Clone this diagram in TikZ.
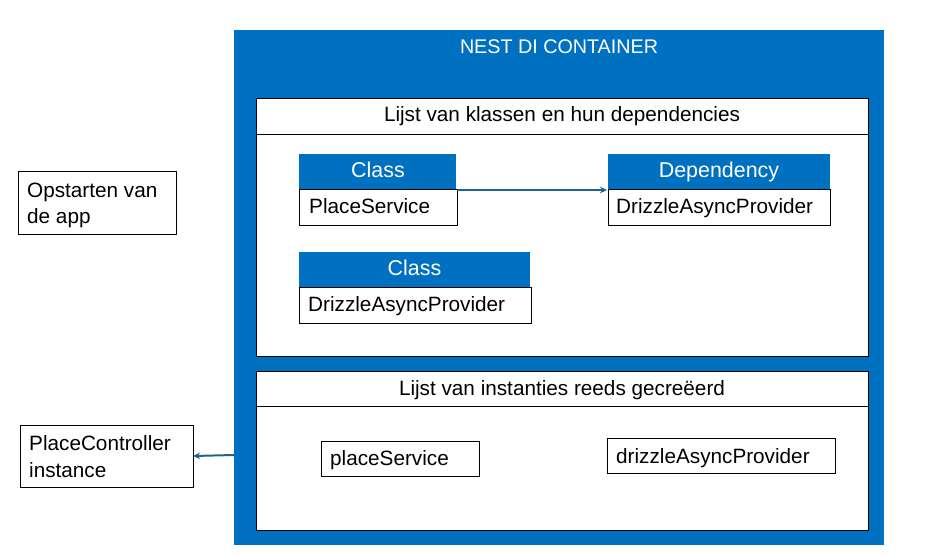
\documentclass[tikz,border=0pt]{standalone}
\usepackage{fontspec}
\setmainfont{Liberation Sans}
\usetikzlibrary{arrows.meta}
\definecolor{msblue}{HTML}{0070C0}
\definecolor{arrowc}{HTML}{1F6391}
\tikzset{
  wbox/.style={draw=black, line width=0.9bp, fill=white},
  hdr/.style={fill=msblue},
  lbl/.style={font=\fontsize{20.8}{24}\selectfont, text=black, inner sep=0pt, anchor=base},
  wlbl/.style={font=\fontsize{21.5}{24}\selectfont, text=white, inner sep=0pt, anchor=base},
  conn/.style={draw=arrowc, line width=2bp, -{Stealth[length=7bp,width=6.5bp]}}
}
\begin{document}
\begin{tikzpicture}[x=1bp,y=-1bp]
\useasboundingbox (0,0) rectangle (928,556);
% outer container
\fill[msblue] (234,30) rectangle (884,545);
\node[wlbl, font=\fontsize{19.8}{24}\selectfont] (title) at (559,54) {NEST DI CONTAINER};
% panel 1
\draw[wbox] (256,98) rectangle (868,356);
\draw[black, line width=0.9bp] (256,134) -- (868,134);
\node[lbl] (p1title) at (562,122) {Lijst van klassen en hun dependencies};
% class 1
\fill[hdr] (299,154) rectangle (456,189);
\node[wlbl] (c1h) at (378,177.5) {Class};
\draw[wbox] (299,189) rectangle (457,225);
\node[lbl, anchor=base west] (c1) at (309,213.5) {PlaceService};
% dependency
\fill[hdr] (608,154) rectangle (830,189);
\node[wlbl] (dh) at (719,177.5) {Dependency};
\draw[wbox] (608,189) rectangle (830,225);
\node[lbl, anchor=base west] (d1) at (616,213.5) {DrizzleAsyncProvider};
\coordinate (c1r) at (457,190);
\coordinate (d1l) at (607,190);
\draw[conn] (c1r) -- (d1l);
% class 2
\fill[hdr] (299,252) rectangle (530,287);
\node[wlbl] (c2h) at (414.5,275.5) {Class};
\draw[wbox] (299,287) rectangle (531,323);
\node[lbl, anchor=base west] (c2) at (308,311.5) {DrizzleAsyncProvider};
% panel 2
\draw[wbox] (256,371) rectangle (868,530);
\draw[black, line width=0.9bp] (256,406) -- (868,406);
\node[lbl] (p2title) at (562,395.5) {Lijst van instanties reeds gecreëerd};
\draw[wbox] (321,441) rectangle (479,476);
\node[lbl, anchor=base west] (ps) at (330,465) {placeService};
\draw[wbox] (607,438) rectangle (835,473);
\node[lbl, anchor=base west] (dap) at (616,463) {drizzleAsyncProvider};
% left boxes
\draw[wbox] (18,171) rectangle (176,234);
\node[lbl, anchor=west, align=left, font=\fontsize{20.8}{26}\selectfont] (start) at (27,205) {Opstarten van\\de app};
\draw[wbox] (20,425) rectangle (193,487);
\node[lbl, anchor=west, align=left, font=\fontsize{20.8}{27}\selectfont] (pc) at (29,456.5) {PlaceController\\instance};
\coordinate (contl) at (234,455);
\coordinate (pcr) at (193,456);
\draw[conn] (contl) -- (pcr);
\end{tikzpicture}
\end{document}
